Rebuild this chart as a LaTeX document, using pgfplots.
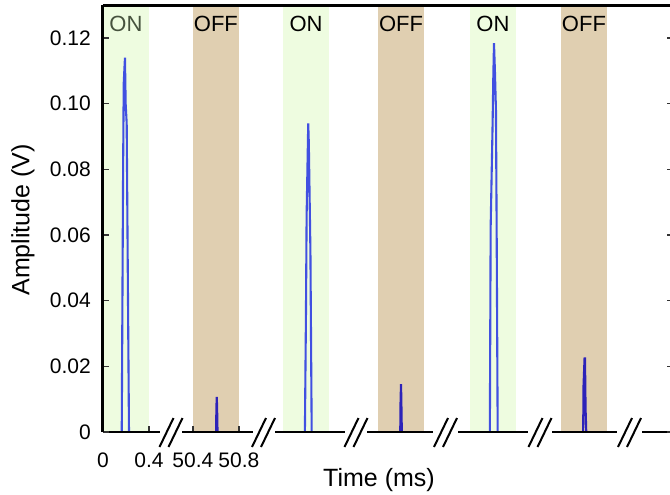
\documentclass[border=0pt]{standalone}
\usepackage{fontspec}
\setmainfont{Liberation Sans}
\usepackage{pgfplots}
\pgfplotsset{compat=1.18}

\definecolor{onband}{RGB}{238,252,224}
\definecolor{offband}{RGB}{224,207,177}
\definecolor{onblue}{RGB}{65,80,225}
\definecolor{offblue}{RGB}{45,35,185}
\definecolor{ontext}{RGB}{70,82,62}

% 1 px of the reference = 0.5pt; x: 115 px per ms, y: 3283.5 px per V
\pgfplotsset{
  seg/.style={
    x=57.5pt, y=1641.75pt, ymin=0, ymax=0.13,
    anchor=south west, clip=false, axis on top,
    axis y line=none, axis x line*=bottom,
    x axis line style={-, line width=1pt},
    ytick=\empty, xtick=\empty,
    tick align=inside, major tick length=3pt,
    tick style={line width=0.6pt, color=black!80},
    xticklabel style={font=\fontsize{10.5}{12}\selectfont, yshift=-7pt},
  },
  band/.style={draw=none, fill=#1, forget plot},
  spike/.style={line width=1.05pt, color=#1, mark=none},
}
\newcommand{\lab}[2]{\node[anchor=base, font=\fontsize{11}{13}\selectfont] at (axis cs:#1,0.1219) {#2};}

\begin{document}
\begin{tikzpicture}

% segment 1: 0 - 0.5 ms
\begin{axis}[seg, at={(0pt,0)}, xmin=0, xmax=0.5,
  xtick={0,0.4}, xticklabels={0,0.4}]
\addplot[band=onband] coordinates {(0,0.13)(0.4,0.13)} \closedcycle;
\addplot[spike=onblue] coordinates {
  (0.163,0)(0.175,0.081)(0.177,0.090)(0.180,0.106)(0.191,0.114)
  (0.197,0.100)(0.206,0.094)(0.226,0)};
\node[anchor=base, text=ontext, font=\fontsize{11}{13}\selectfont] at (axis cs:0.2,0.1219) {ON};
\end{axis}

% segment 2
\begin{axis}[seg, at={(39.5pt,0)}, xmin=50.305, xmax=50.92,
  xtick={50.4,50.8}, xticklabels={50.4,50.8}]
\addplot[band=offband] coordinates {(50.4,0.13)(50.8,0.13)} \closedcycle;
\addplot[spike=offblue] coordinates {
  (50.601,0)(50.604,0.007)(50.607,0.0107)(50.610,0.008)(50.614,0)};
\lab{50.6}{OFF}
\end{axis}

% segment 3
\begin{axis}[seg, at={(86pt,0)}, xmin=100.73, xmax=101.34]
\addplot[band=onband] coordinates {(100.8,0.13)(101.2,0.13)} \closedcycle;
\addplot[spike=onblue] coordinates {
  (100.990,0)(100.999,0.035)(101.005,0.066)(101.019,0.094)
  (101.024,0.088)(101.038,0.055)(101.049,0)};
\lab{101.0}{ON}
\end{axis}

% segment 4
\begin{axis}[seg, at={(132pt,0)}, xmin=151.104, xmax=151.678]
\addplot[band=offband] coordinates {(151.2,0.13)(151.6,0.13)} \closedcycle;
\addplot[spike=offblue] coordinates {
  (151.393,0)(151.396,0.010)(151.400,0.0146)(151.403,0.009)(151.407,0)};
\lab{151.4}{OFF}
\end{axis}

% segment 5
\begin{axis}[seg, at={(177.5pt,0)}, xmin=201.496, xmax=202.105]
\addplot[band=onband] coordinates {(201.6,0.13)(202.0,0.13)} \closedcycle;
\addplot[spike=onblue] coordinates {
  (201.773,0)(201.780,0.0625)(201.797,0.094)(201.803,0.108)(201.809,0.1184)
  (201.817,0.110)(201.826,0.098)(201.832,0.0625)(201.841,0)};
\lab{201.8}{ON}
\end{axis}

% segment 6
\begin{axis}[seg, at={(224.5pt,0)}, xmin=251.922, xmax=252.487]
\addplot[band=offband] coordinates {(252.0,0.13)(252.4,0.13)} \closedcycle;
\addplot[spike=offblue] coordinates {
  (252.193,0)(252.196,0.014)(252.205,0.0224)(252.209,0.0224)(252.214,0.007)(252.220,0)};
\lab{252.2}{OFF}
\end{axis}

% segment 7 (cut off at the right)
\begin{axis}[seg, at={(269.5pt,0)}, xmin=302.3, xmax=302.57]
\addplot[draw=none, forget plot] coordinates {(302.3,0)(302.57,0)};
\end{axis}

% frame: left/right axis, y ticks, labels
\begin{axis}[
  at={(0,0)}, anchor=south west,
  x=0.5pt, y=1641.75pt, xmin=103, xmax=673, ymin=0, ymax=0.13,
  clip=false, separate axis lines,
  x axis line style={draw=none},
  y axis line style={line width=1.5pt},
  xtick=\empty,
  ytick={0,0.02,0.04,0.06,0.08,0.10,0.12},
  yticklabels={0,0.02,0.04,0.06,0.08,0.10,0.12},
  ytick pos=both, yticklabel pos=left,
  tick align=inside, major tick length=3pt,
  tick style={line width=0.6pt, color=black!80},
  yticklabel style={font=\fontsize{10.5}{12}\selectfont, xshift=-2.6pt},
]
\addplot[draw=none, forget plot] coordinates {(103,0)(673,0.13)};
\draw[line width=1.5pt] (axis cs:103,0.13) -- (axis cs:673,0.13);
\node[rotate=90, font=\fontsize{12.5}{15}\selectfont] at (axis cs:23,0.0646) {Amplitude (V)};
\node[anchor=base, font=\fontsize{12.5}{15}\selectfont] at (axis cs:379,-0.01666) {Time (ms)};
\end{axis}

% axis break marks
\foreach \c in {171,263.5,356,445.5,540,629.5} {
  \draw[line width=1pt] ({(\c-103)*0.5pt-5.75pt},-7.5pt) -- ++(7pt,14.5pt);
  \draw[line width=1pt] ({(\c-103)*0.5pt-1.25pt},-7.5pt) -- ++(7pt,14.5pt);
}

\pgfresetboundingbox
\useasboundingbox (-51.5pt,-31pt) rectangle (283.5pt,216pt);
\end{tikzpicture}
\end{document}
